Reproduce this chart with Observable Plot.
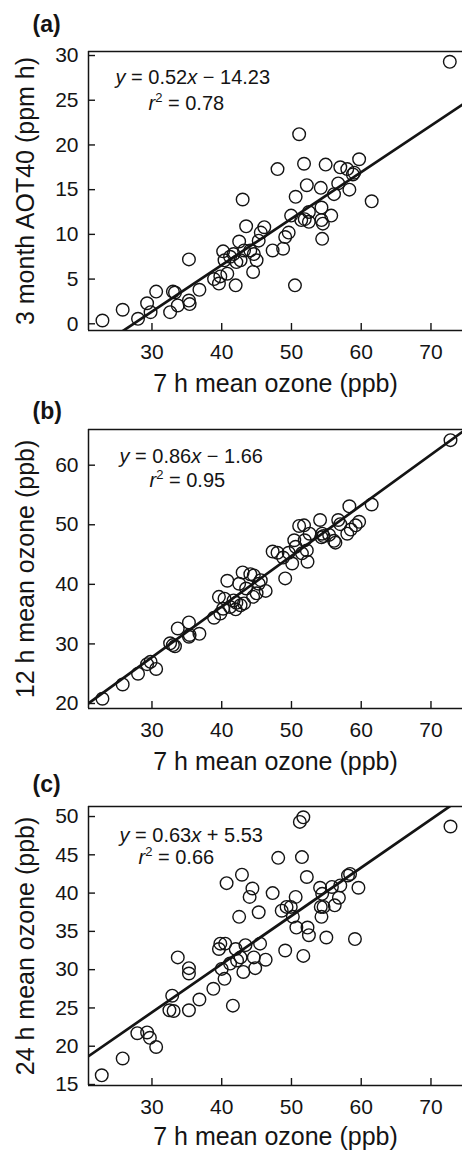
<!DOCTYPE html>
<html>
<head>
<meta charset="utf-8">
<script src="https://cdn.jsdelivr.net/npm/d3@7"></script>
<script src="https://cdn.jsdelivr.net/npm/@observablehq/plot@0.6"></script>
<style>
  html, body { margin: 0; padding: 0; background: #fff; }
  #chart svg { display: block; }
</style>
</head>
<body>
<div id="chart"></div>
<script>
// ---- data ----
const xTitle = "7 h mean ozone (ppb)";
const xTicks = [30, 40, 50, 60, 70];

// Panel (a)
const yTitleA = "3 month AOT40 (ppm h)";
const yTicksA = [0, 5, 10, 15, 20, 25, 30];
const xA = [22.9,25.8,28.0,29.3,29.8,30.6,32.6,33.0,33.3,33.7,35.3,35.3,35.4,36.8,38.9,39.6,39.8,40.2,40.4,40.8,41.2,41.7,42.0,42.1,42.5,42.7,43.0,43.2,43.5,44.1,44.5,44.6,45.0,45.3,45.6,46.1,47.3,48.0,48.8,49.1,49.6,49.95,50.5,50.6,51.1,51.4,51.8,51.9,52.2,52.5,52.5,54.2,54.3,54.3,54.4,54.5,54.9,55.7,56.1,56.7,57.0,58.0,58.3,58.8,59.0,59.7,61.5,72.7];
const yA = [0.37,1.57,0.56,2.3,1.3,3.6,1.3,3.6,3.5,2.05,7.2,2.6,2.2,3.8,5.0,4.5,5.3,8.1,7.1,5.6,7.5,7.8,4.3,6.9,9.2,7.1,13.9,8.2,10.9,8.2,5.8,7.8,7.1,9.3,10.2,10.8,8.2,17.3,8.4,9.7,10.2,12.1,4.3,14.2,21.2,11.6,17.9,11.7,15.5,12.5,11.4,15.2,13.0,11.6,9.5,11.2,17.8,12.1,14.5,15.7,17.5,17.3,15.0,16.7,16.9,18.4,13.7,29.3];
const eqA = ["y = 0.52x − 14.23", "r2 = 0.78"];
const fitA = [0.52, -14.23];   // slope, intercept of the drawn line

// Panel (b)
const yTitleB = "12 h mean ozone (ppb)";
const yTicksB = [20, 30, 40, 50, 60];
const xB = [22.9,25.8,28.0,29.3,29.8,30.6,32.6,33.0,33.3,33.7,35.3,35.3,35.4,36.8,38.9,39.6,39.8,40.2,40.4,40.8,41.2,41.7,42.0,42.1,42.5,42.7,43.0,43.2,43.5,44.1,44.5,44.6,45.0,45.3,45.6,46.3,47.3,48.0,48.8,49.1,49.6,50.1,50.4,50.6,51.1,51.5,51.8,51.9,52.2,52.3,52.6,54.1,54.3,54.4,54.6,55.4,56.1,56.3,56.7,57.0,58.0,58.3,58.5,59.2,59.7,61.5,72.8];
const yB = [20.8,23.2,25.0,26.6,27.0,25.8,30.1,29.8,29.6,32.6,33.6,31.2,31.5,31.7,34.4,37.9,35.1,35.9,37.6,40.6,36.2,37.3,35.8,36.9,40.1,36.5,42.0,36.8,39.3,41.7,37.9,41.5,38.5,40.1,40.7,38.9,45.5,45.3,44.5,41.0,45.3,43.5,47.4,46.3,49.8,45.2,49.9,47.4,45.7,43.8,48.5,50.8,47.9,48.5,48.1,48.3,47.3,47.0,50.8,50.1,48.5,53.1,49.2,49.9,50.5,53.4,64.2];
const eqB = ["y = 0.86x − 1.66", "r2 = 0.95"];
const fitB = [0.85, 2.27];     // line as drawn in the figure

// Panel (c)
const yTitleC = "24 h mean ozone (ppb)";
const yTicksC = [15, 20, 25, 30, 35, 40, 45, 50];
const xC = [22.8,25.8,27.9,29.3,29.7,30.6,32.5,32.9,33.1,33.7,35.3,35.3,35.3,36.8,38.8,39.6,39.8,40.0,40.4,40.5,40.7,41.2,41.6,42.0,42.2,42.5,42.7,42.9,43.1,43.4,44.0,44.4,44.6,44.8,45.3,45.5,46.3,47.3,48.1,48.6,49.1,49.3,49.9,50.2,50.6,50.7,51.2,51.7,51.5,51.7,52.2,52.3,52.5,54.1,54.2,54.3,54.4,54.6,55.0,55.8,56.2,56.8,57.0,58.1,58.4,59.1,59.6,72.8];
const yC = [16.2,18.4,21.7,21.8,21.1,19.9,24.7,26.6,24.6,31.6,24.7,30.2,29.5,26.1,27.5,32.7,33.4,30.1,28.8,33.4,41.3,30.8,25.3,32.7,31.2,36.9,31.6,42.4,29.7,33.2,39.5,40.6,31.6,30.2,37.5,33.4,31.3,40.0,44.6,37.7,32.5,38.2,38.2,36.9,39.5,35.5,49.3,49.9,44.7,31.8,42.1,35.5,34.5,40.7,38.2,36.9,39.9,38.2,34.2,40.8,38.4,39.4,41.0,42.3,42.5,34.0,40.7,48.7];
const eqC = ["y = 0.63x + 5.53", "r2 = 0.66"];
const fitC = [0.63, 5.53];

// ---- layout ----
const W = 462, ML = 88, MR = 0;
const xDomain = [20.9, 74.52];
const FONT = "'Liberation Sans', Arial, Helvetica, sans-serif";
const INK = "#141414";

function panel(o) {
  const innerH = o.height - o.marginTop - o.marginBottom;
  const innerW = W - ML - MR;
  const pts = o.xs.map((x, i) => ({x, y: o.ys[i]}));
  const fitPts = xDomain.map(x => ({x, y: o.fit[0] * x + o.fit[1]}));
  const svg = Plot.plot({
    width: W, height: o.height,
    marginLeft: ML, marginRight: MR, marginTop: o.marginTop, marginBottom: o.marginBottom,
    style: {fontFamily: FONT, fontSize: "21px", color: INK, background: "#fff", overflow: "visible"},
    x: {domain: xDomain, ticks: xTicks, tickSize: 0, tickPadding: 14, tickFormat: d => String(d), label: null},
    y: {domain: o.yDomain, ticks: o.yTicks, tickSize: 0, tickPadding: 10, tickFormat: d => String(d), label: null},
    marks: [
      Plot.ruleX([xDomain[0]], {stroke: INK, strokeWidth: 1.5}),
      Plot.ruleY(o.yDomain, {stroke: INK, strokeWidth: 1.5}),
      Plot.tickX(xTicks, {x: d => d, insetTop: innerH - 7, stroke: INK, strokeWidth: 1.4}),
      Plot.tickY(o.yTicks, {y: d => d, insetRight: innerW - 7, stroke: INK, strokeWidth: 1.4}),
      Plot.line(fitPts, {x: "x", y: "y", stroke: INK, strokeWidth: 2.7, clip: true}),
      Plot.dot(pts, {x: "x", y: "y", r: 6.3, stroke: INK, strokeWidth: 1.4, fill: "none"}),
      Plot.text([o.eq[0]], {text: d => d, frameAnchor: "top-left", dx: o.eq1dx, dy: o.eq1dy, textAnchor: "start", lineAnchor: "bottom", fontSize: 20}),
      Plot.text([o.eq[1]], {text: d => d, frameAnchor: "top-left", dx: o.eq2dx, dy: o.eq2dy, textAnchor: "start", lineAnchor: "bottom", fontSize: 20}),
      Plot.text([o.label], {text: d => d, frameAnchor: "top-left", dx: -56, dy: o.labelDy, textAnchor: "start", lineAnchor: "bottom", fontSize: 23, fontWeight: "bold"}),
      Plot.text([o.yTitle], {text: d => d, frameAnchor: "left", dx: -55, rotate: -90, textAnchor: "middle", lineAnchor: "bottom", fontSize: 25}),
      Plot.text([xTitle], {text: d => d, frameAnchor: "bottom", dy: o.xTitleDy, textAnchor: "middle", lineAnchor: "bottom", fontSize: 25})
    ]
  });
  // rich text for the equations (italic variables, superscript)
  svg.querySelectorAll("text").forEach(t => {
    const s = t.textContent;
    if (s === o.eq[0]) {
      const m = s.match(/^y = (.*)x (.*)$/);
      t.innerHTML = `<tspan font-style="italic">y</tspan> = ${m[1]}<tspan font-style="italic">x</tspan> ${m[2]}`;
    } else if (s === o.eq[1]) {
      const rest = s.replace(/^r2/, "");
      t.innerHTML = `<tspan font-style="italic">r</tspan><tspan font-size="13" dy="-8">2</tspan><tspan dy="8">${rest}</tspan>`;
    }
  });
  return svg;
}

const chart = document.getElementById("chart");
chart.append(panel({
  xs: xA, ys: yA, yDomain: [-0.75, 30.45], yTicks: yTicksA, fit: fitA, eq: eqA,
  label: "(a)", yTitle: yTitleA, height: 398, marginTop: 51, marginBottom: 68,
  eq1dx: 27, eq1dy: 32, eq2dx: 60, eq2dy: 58, labelDy: -20, xTitleDy: 61
}));
chart.append(panel({
  xs: xB, ys: yB, yDomain: [19.16, 65.99], yTicks: yTicksB, fit: fitB, eq: eqB,
  label: "(b)", yTitle: yTitleB, height: 377, marginTop: 31, marginBottom: 67,
  eq1dx: 31, eq1dy: 33, eq2dx: 61, eq2dy: 57, labelDy: -11, xTitleDy: 61
}));
chart.append(panel({
  xs: xC, ys: yC, yDomain: [14.87, 51.31], yTicks: yTicksC, fit: fitC, eq: eqC,
  label: "(c)", yTitle: yTitleC, height: 377, marginTop: 31, marginBottom: 67,
  eq1dx: 31, eq1dy: 35, eq2dx: 50, eq2dy: 57, labelDy: -15, xTitleDy: 59
}));
</script>
</body>
</html>
